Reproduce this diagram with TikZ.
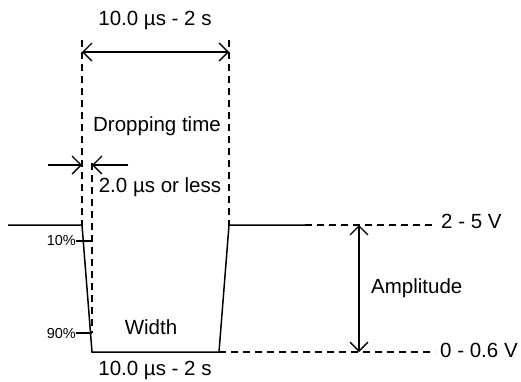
\documentclass[tikz,border=0pt]{standalone}
\usepackage{fontspec}
\setmainfont{Liberation Sans}
\usetikzlibrary{arrows.meta}
\begin{document}
\begin{tikzpicture}[x=1pt,y=-1pt,
  sig/.style={line width=1.5pt},
  guide/.style={line width=1.3pt,dash pattern=on 7pt off 5pt},
  dim/.style={line width=1.3pt,{Straight Barb[length=9pt,width=18pt]}-{Straight Barb[length=9pt,width=18pt]}},
  lbl/.style={font=\fontsize{20.5}{24}\selectfont,inner sep=0pt},
  pct/.style={font=\fontsize{14.5}{17}\selectfont,inner sep=0pt}]
\useasboundingbox (0,0) rectangle (521,381);
% signal coordinates
\coordinate (s0) at (8,225);
\coordinate (a) at (82,225);
\coordinate (b) at (92,352);
\coordinate (c) at (219,352);
\coordinate (d) at (229,225);
\coordinate (e) at (305,225);
\draw[sig] (s0) -- (a) -- (b) -- (c) -- (d) -- (e);
% dashed guides
\coordinate (lt) at (82,40);
\coordinate (rt) at (229,40);
\coordinate (it) at (92,163);
\coordinate (ib) at (92,333);
\draw[guide] (lt) -- (a);
\draw[guide] (rt) -- (d);
\draw[guide] (it) -- (ib);
\coordinate (hv) at (435,225);
\coordinate (lv) at (435,352);
\draw[guide] (e) -- (hv);
\draw[guide] (c) -- (lv);
% top dimension
\coordinate (ta) at (82,52);
\coordinate (tb) at (229,52);
\draw[dim] (ta) -- (tb);
\node[lbl] (toplbl) at (155,20) {10.0 µs - 2 s};
\node[lbl] (drop) at (157,126) {Dropping time};
% small arrows
\coordinate (sl0) at (48,165);
\coordinate (sl1) at (82,165);
\coordinate (sr0) at (128,165);
\coordinate (sr1) at (92,165);
\draw[line width=1.3pt,-{Straight Barb[length=9pt,width=18pt]}] (sl0) -- (sl1);
\draw[line width=1.3pt,-{Straight Barb[length=9pt,width=18pt]}] (sr0) -- (sr1);
\node[lbl] (less) at (160,187) {2.0 µs or less};
% percent ticks
\coordinate (t10a) at (76,241);
\coordinate (t10b) at (92,241);
\coordinate (t90a) at (76,333);
\coordinate (t90b) at (92,333);
\draw[line width=1.2pt] (t10a) -- (t10b);
\draw[line width=1.2pt] (t90a) -- (t90b);
\node[pct,anchor=east] (p10) at (t10a) {10\%};
\node[pct,anchor=east] (p90) at (t90a) {90\%};
% labels
\node[lbl] (width) at (151,327) {Width};
\node[lbl] (botlbl) at (155,370) {10.0 µs - 2 s};
\node[lbl,anchor=west] (hvl) at (441,221) {2 - 5 V};
\node[lbl,anchor=west] (lvl) at (440,350) {0 - 0.6 V};
% amplitude
\coordinate (ampt) at (359,225);
\coordinate (ampb) at (359,352);
\draw[dim] (ampt) -- (ampb);
\node[lbl,anchor=west] (amp) at (371,288) {Amplitude};
\end{tikzpicture}
\end{document}
